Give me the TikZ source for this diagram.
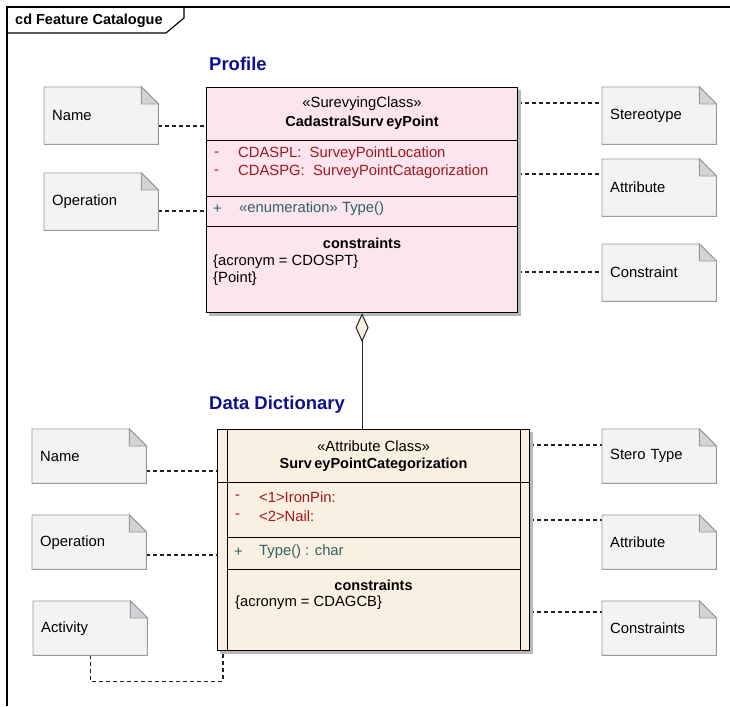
\documentclass[tikz,border=0pt]{standalone}
\usepackage{fontspec}
\setmainfont{Liberation Sans}
\usetikzlibrary{arrows.meta}
\pgfdeclarelayer{background}
\pgfsetlayers{background,main}
\definecolor{pinkfill}{HTML}{FDE5F0}
\definecolor{creamfill}{HTML}{FAF0E2}
\definecolor{notefill}{HTML}{F5F2F6}
\definecolor{notedraw}{HTML}{9A9A9A}
\definecolor{foldfill}{HTML}{D4D2D6}
\definecolor{attrcol}{HTML}{A01818}
\definecolor{opcol}{HTML}{2E6465}
\definecolor{titlecol}{HTML}{10108A}
\definecolor{shadowcol}{HTML}{B8B8B8}
\definecolor{linecol}{HTML}{222222}
\begin{document}
\begin{tikzpicture}[x=1pt,y=-1pt,
  txt/.style={font=\fontsize{14.8}{17}\selectfont, inner sep=0pt},
  btxt/.style={font=\fontsize{14.5}{17}\selectfont\bfseries, inner sep=0pt},
  titletxt/.style={font=\fontsize{18.5}{22}\selectfont\bfseries, text=titlecol, inner sep=0pt, anchor=west},
  attr/.style={txt, text=attrcol, anchor=west},
  oper/.style={txt, text=opcol, anchor=west},
  plain/.style={txt, anchor=west},
  classbox/.style={draw=black, line width=1.1pt, inner sep=0pt, anchor=north west},
  classline/.style={draw=black, line width=1pt},
  notebox/.style={draw=none, fill=none, anchor=north west, text width=98pt, align=left,
     inner xsep=8pt, inner ysep=0pt, font=\fontsize{14.8}{17}\selectfont},
  noteshape/.style={fill=notefill, draw=notedraw, line width=0.9pt},
  foldshape/.style={fill=foldfill, draw=notedraw, line width=0.9pt},
  conn/.style={draw=linecol, line width=1.1pt, dash pattern=on 4pt off 3pt},
  agg/.style={draw=linecol, line width=1pt, {Diamond[length=29pt,width=13pt,fill=creamfill,line width=1pt]}-},
  frameline/.style={draw=black, line width=1.1pt}
]
\useasboundingbox (0,0) rectangle (730,706);
\begin{pgfonlayer}{background}
\fill[white] (0,0) rectangle (730,706);
\end{pgfonlayer}

% frame
\draw[frameline] (7,706) -- (7,7) -- (730,7);
\draw[frameline] (7,33) -- (166,33) -- (184,18) -- (184,7);
\node[btxt, anchor=west] (tabtxt) at (15,21) {cd Feature Catalogue};

% titles
\node[titletxt] (tprof) at (209,64) {Profile};
\node[titletxt] (tdd) at (209,405) {Data Dictionary};

% class boxes
\node[classbox, fill=pinkfill, minimum width=311pt, minimum height=225pt] (pc) at (206,87) {};
\node[classbox, fill=creamfill, minimum width=312pt, minimum height=221pt] (dc) at (217,429) {};

% notes
\node[notebox, minimum height=57pt] (n1) at (44,87) {Name};
\node[notebox, minimum height=57pt] (n2) at (44,173) {Operation};
\node[notebox, minimum height=57pt] (n3) at (602,87) {Stereotype};
\node[notebox, minimum height=57pt] (n4) at (602,159) {Attribute};
\node[notebox, minimum height=57pt] (n5) at (602,244) {Constraint};
\node[notebox, minimum height=54pt] (n6) at (32,429) {Name};
\node[notebox, minimum height=54pt] (n7) at (32,515) {Operation};
\node[notebox, minimum height=54pt] (n8) at (33,601) {Activity};
\node[notebox, minimum height=54pt] (n9) at (602,429) {Stero Type};
\node[notebox, minimum height=54pt] (n10) at (602,515) {Attribute};
\node[notebox, minimum height=54pt] (n11) at (602,601) {Constraints};

\begin{pgfonlayer}{background}
  % connectors
  \draw[conn] (n1.east |- 0,126) -- (pc.west |- 0,126);
  \draw[conn] (n2.east |- 0,211) -- (pc.west |- 0,211);
  \draw[conn] (pc.east |- 0,103) -- (n3.west |- 0,103);
  \draw[conn] (pc.east |- 0,174) -- (n4.west |- 0,174);
  \draw[conn] (pc.east |- 0,272) -- (n5.west |- 0,272);
  \draw[conn] (n6.east |- 0,471) -- (dc.west |- 0,471);
  \draw[conn] (n7.east |- 0,555) -- (dc.west |- 0,555);
  \draw[conn] (dc.east |- 0,445) -- (n9.west |- 0,445);
  \draw[conn] (dc.east |- 0,520) -- (n10.west |- 0,520);
  \draw[conn] (dc.east |- 0,612) -- (n11.west |- 0,612);
  \draw[conn] (n8.south) -- ++(0,26) -| (dc.south -| 223,0);
  % shadows
  \fill[shadowcol] ([shift={(3pt,-3pt)}]pc.north west) rectangle ([shift={(3pt,-3pt)}]pc.south east);
  \fill[shadowcol] ([shift={(3pt,-3pt)}]dc.north west) rectangle ([shift={(3pt,-3pt)}]dc.south east);
  % note outlines
  \foreach \n in {n1,n2,n3,n4,n5,n6,n7,n8,n9,n10,n11} {
    \path[noteshape] (\n.north west) -- ([xshift=-17pt]\n.north east) -- ([yshift=-17pt]\n.north east)
      -- (\n.south east) -- (\n.south west) -- cycle;
    \path[foldshape] ([xshift=-17pt]\n.north east) -- ([xshift=-17pt,yshift=-17pt]\n.north east)
      -- ([yshift=-17pt]\n.north east) -- cycle;
  }
\end{pgfonlayer}

% aggregation
\draw[agg] (pc.south) -- (dc.north -| pc.south);

% Profile class compartments
\draw[classline] (pc.west |- 0,140) -- (pc.east |- 0,140);
\draw[classline] (pc.west |- 0,196) -- (pc.east |- 0,196);
\draw[classline] (pc.west |- 0,226) -- (pc.east |- 0,226);
\node[txt] (pst) at (pc.north |- 0,104) {«SurevyingClass»};
\node[btxt] (pnm) at (pc.north |- 0,123) {CadastralSurv\kern2.5pt eyPoint};
\node[attr] (pa1m) at (214,154) {-};
\node[attr] (pa1) at (238,154) {CDASPL:\ \ SurveyPointLocation};
\node[attr] (pa2m) at (214,172) {-};
\node[attr] (pa2) at (238,172) {CDASPG:\ \ SurveyPointCatagorization};
\node[oper] (po1m) at (213,209) {+};
\node[oper] (po1) at (239,209) {«enumeration» Type()};
\node[btxt] (pcn) at (pc.north |- 0,243) {constraints};
\node[plain] (pc1) at (213,262) {\{acronym = CDOSPT\}};
\node[plain] (pc2) at (213,279) {\{Point\}};

% Data dictionary class compartments
\draw[classline] (227,429) -- (227,650);
\draw[classline] (520,429) -- (520,650);
\draw[classline] (dc.west |- 0,482) -- (dc.east |- 0,482);
\draw[classline] (227,537) -- (520,537);
\draw[classline] (227,569) -- (520,569);
\node[txt] (dst) at (dc.north |- 0,446) {«Attribute Class»};
\node[btxt] (dnm) at (dc.north |- 0,465) {Surv\kern2.5pt eyPointCategorization};
\node[attr] (da1m) at (235,497) {-};
\node[attr] (da1) at (259,497) {<1>IronPin:};
\node[attr] (da2m) at (235,516) {-};
\node[attr] (da2) at (259,516) {<2>Nail:};
\node[oper] (do1m) at (234,552) {+};
\node[oper] (do1) at (259,552) {Type() : char};
\node[btxt] (dcn) at (dc.north |- 0,585) {constraints};
\node[plain] (dc1) at (235,603) {\{acronym = CDAGCB\}};
\end{tikzpicture}
\end{document}
